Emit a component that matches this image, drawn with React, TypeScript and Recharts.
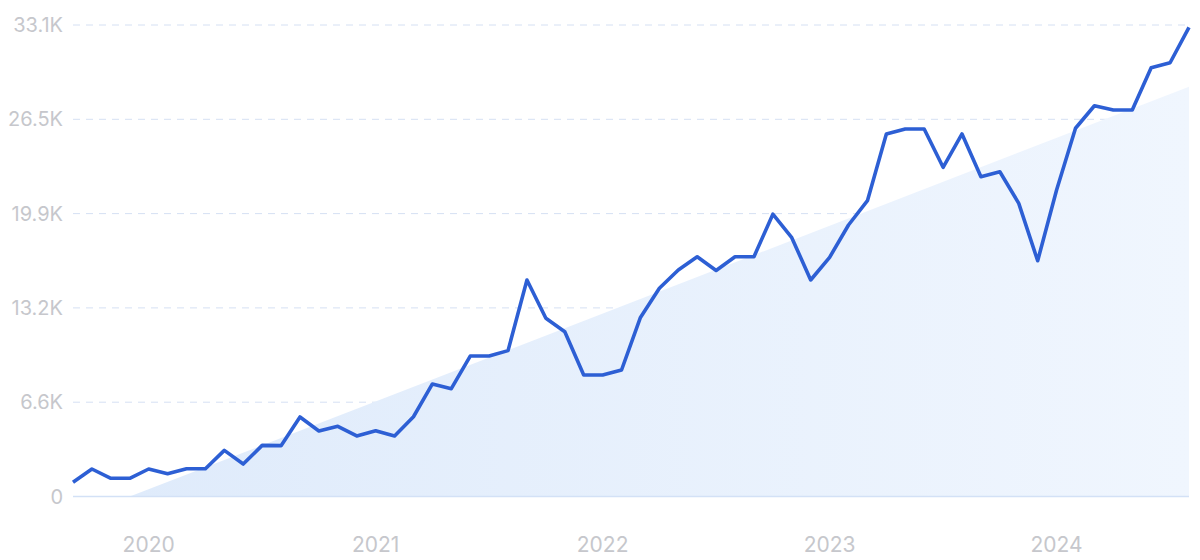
import { ComposedChart, Line, Area, XAxis, YAxis, CartesianGrid } from 'recharts'

// monthly search volume, Sep 2019 .. Aug 2024
const months = [
  '2019-09', '2019-10', '2019-11', '2019-12',
  '2020-01', '2020-02', '2020-03', '2020-04', '2020-05', '2020-06', '2020-07', '2020-08', '2020-09', '2020-10', '2020-11', '2020-12',
  '2021-01', '2021-02', '2021-03', '2021-04', '2021-05', '2021-06', '2021-07', '2021-08', '2021-09', '2021-10', '2021-11', '2021-12',
  '2022-01', '2022-02', '2022-03', '2022-04', '2022-05', '2022-06', '2022-07', '2022-08', '2022-09', '2022-10', '2022-11', '2022-12',
  '2023-01', '2023-02', '2023-03', '2023-04', '2023-05', '2023-06', '2023-07', '2023-08', '2023-09', '2023-10', '2023-11', '2023-12',
  '2024-01', '2024-02', '2024-03', '2024-04', '2024-05', '2024-06', '2024-07', '2024-08',
]

const volume = [
  1000, 1930, 1280, 1280,
  1930, 1600, 1950, 1950, 3240, 2280, 3590, 3570, 5580, 4600, 4930, 4250,
  4620, 4250, 5600, 7900, 7570, 9860, 9860, 10240, 15200, 12510, 11570, 8530,
  8530, 8880, 12570, 14620, 15900, 16830, 15870, 16830, 16830, 19820, 18170, 15200,
  16790, 19060, 20770, 25450, 25800, 25800, 23110, 25450, 22450, 22800, 20580, 16550,
  21520, 25850, 27430, 27130, 27130, 30100, 30450, 32940,
]

// trend line: only its two ends, the area joins them
const trendStart = { month: '2019-12', value: 0 }
const trendEnd = { month: '2024-08', value: 28770 }

const yTicks = [0, 6620, 13240, 19860, 26480, 33100]
const yearTicks = ['2020-01', '2021-01', '2022-01', '2023-01', '2024-01']

const data = months.map((month, i) => ({
  month,
  volume: volume[i],
  trend: month === trendStart.month ? trendStart.value : month === trendEnd.month ? trendEnd.value : null,
}))

const fmtY = (v: number) => (v === 0 ? '0' : `${(v / 1000).toFixed(1)}K`)

export default function App() {
  return (
    <div style={{ width: 1200, height: 560, background: '#fff' }}>
      <style>{'body{margin:0}'}</style>
      <ComposedChart width={1200} height={560} data={data} margin={{ top: 25, right: 11, bottom: 0, left: 0 }}>
        <defs>
          <linearGradient id="trendFill" x1="0" y1="0" x2="1" y2="0">
            <stop offset="0%" stopColor="#dfebfb" />
            <stop offset="100%" stopColor="#f0f6fe" />
          </linearGradient>
        </defs>
        <CartesianGrid vertical={false} stroke="#d5e0f3" strokeDasharray="7 6" />
        <XAxis
          dataKey="month"
          ticks={yearTicks}
          tickFormatter={(v: string) => v.slice(0, 4)}
          height={63.5}
          axisLine={{ stroke: '#d3e1f6', strokeWidth: 1.5 }}
          tickLine={false}
          tickSize={0}
          tickMargin={41}
          tick={{ fill: '#c6c7cc', fontSize: 21, fontFamily: 'Inter' }}
        />
        <YAxis
          domain={[0, 33100]}
          ticks={yTicks}
          tickFormatter={fmtY}
          width={73}
          axisLine={false}
          tickLine={false}
          tickSize={0}
          tickMargin={10}
          tick={{ fill: '#c6c7cc', fontSize: 20, fontFamily: 'Inter' }}
        />
        <Area
          dataKey="trend"
          type="linear"
          connectNulls
          stroke="none"
          fill="url(#trendFill)"
          fillOpacity={1}
          isAnimationActive={false}
        />
        <Line
          dataKey="volume"
          type="linear"
          stroke="#2d5fd4"
          strokeWidth={3.6}
          strokeLinejoin="round"
          dot={false}
          activeDot={false}
          isAnimationActive={false}
        />
      </ComposedChart>
    </div>
  )
}
